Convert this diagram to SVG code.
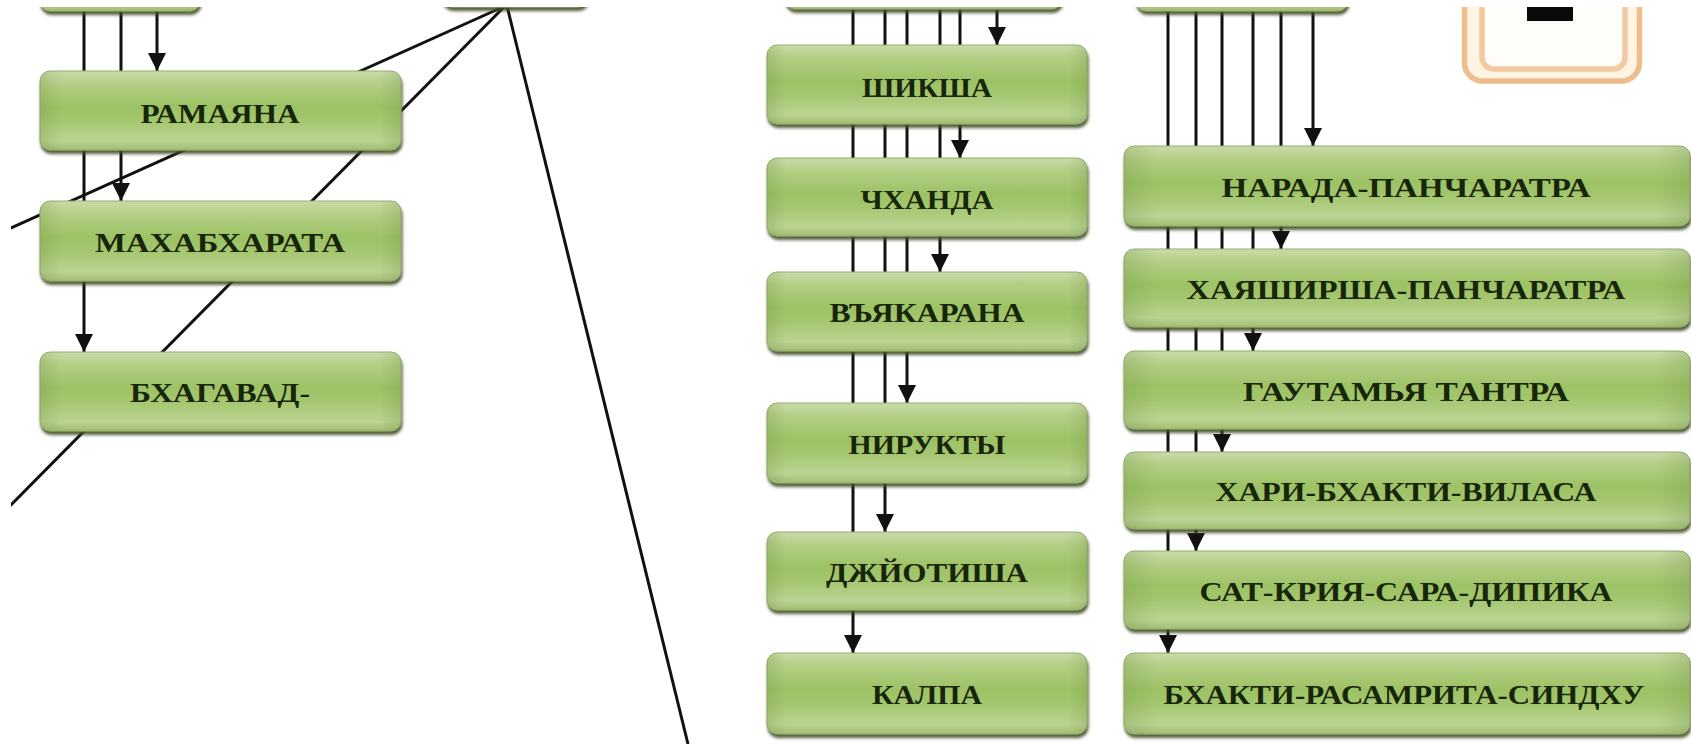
<svg xmlns="http://www.w3.org/2000/svg" width="1691" height="744" viewBox="0 0 1691 744">
<defs>
<linearGradient id="g" x1="0" y1="0" x2="0" y2="1">
<stop offset="0" stop-color="#cadcaa"/>
<stop offset="0.15" stop-color="#b4cf87"/>
<stop offset="0.45" stop-color="#9dc264"/>
<stop offset="0.62" stop-color="#a4c66e"/>
<stop offset="0.88" stop-color="#bad492"/>
<stop offset="1" stop-color="#a3bc74"/>
</linearGradient>
<linearGradient id="gh" x1="0" y1="0" x2="1" y2="0">
<stop offset="0" stop-color="#6f8c45" stop-opacity="0.25"/>
<stop offset="0.06" stop-color="#6f8c45" stop-opacity="0"/>
<stop offset="0.94" stop-color="#6f8c45" stop-opacity="0"/>
<stop offset="1" stop-color="#6f8c45" stop-opacity="0.25"/>
</linearGradient>
<filter id="sh" x="-5%" y="-10%" width="110%" height="130%">
<feDropShadow dx="1" dy="3.5" stdDeviation="1.4" flood-color="#404e24" flood-opacity="0.9"/>
</filter>
<marker id="ah" viewBox="0 0 10 10" refX="10" refY="5" markerWidth="23" markerHeight="18" markerUnits="userSpaceOnUse" orient="auto">
<path d="M0,0 L10,5 L0,10 z" fill="#111"/>
</marker>
</defs>
<style>
.ln{stroke:#111;stroke-width:3;fill:none}
.ar{marker-end:url(#ah)}
.box{fill:url(#g);stroke:#94b06a;stroke-width:1;filter:url(#sh)}
.ov{fill:url(#gh)}
.t{font-family:"Liberation Serif","DejaVu Serif",serif;font-weight:bold;font-size:27px;fill:#17250a;text-anchor:middle}
</style>
<rect width="1691" height="744" fill="#ffffff"/>

<g id="connectors">
<line class="ln ar" x1="84" y1="0" x2="84" y2="352"/>
<line class="ln ar" x1="121" y1="0" x2="121" y2="201"/>
<line class="ln ar" x1="157" y1="0" x2="157" y2="71"/>
<line class="ln" x1="505" y1="6" x2="0" y2="233"/>
<line class="ln" x1="505" y1="6" x2="0" y2="516"/>
<line class="ln" x1="507" y1="6" x2="688" y2="744"/>
<line class="ln ar" x1="853" y1="0" x2="853" y2="653"/>
<line class="ln ar" x1="885" y1="0" x2="885" y2="532"/>
<line class="ln ar" x1="907" y1="0" x2="907" y2="403"/>
<line class="ln ar" x1="940" y1="0" x2="940" y2="272"/>
<line class="ln ar" x1="960" y1="0" x2="960" y2="158"/>
<line class="ln ar" x1="997" y1="0" x2="997" y2="45"/>
<line class="ln ar" x1="1168" y1="0" x2="1168" y2="653"/>
<line class="ln ar" x1="1196" y1="0" x2="1196" y2="551"/>
<line class="ln ar" x1="1222" y1="0" x2="1222" y2="452"/>
<line class="ln ar" x1="1253" y1="0" x2="1253" y2="351"/>
<line class="ln ar" x1="1281" y1="0" x2="1281" y2="249"/>
<line class="ln ar" x1="1313" y1="0" x2="1313" y2="146"/>
</g>

<g id="top-left"><rect class="box" x="40" y="-70" width="160" height="81" rx="10"/></g>
<g id="top-mid"><rect class="box" x="442" y="-70" width="146" height="77" rx="10"/></g>
<g id="top-center"><rect class="box" x="785" y="-70" width="277" height="79" rx="10"/></g>
<g id="top-right"><rect class="box" x="1136" y="-70" width="212" height="81" rx="10"/></g>

<g id="n-ramayana"><rect class="box" x="40" y="71" width="361" height="79" rx="10"/><rect class="ov" x="40" y="71" width="361" height="79" rx="10"/><text class="t" x="220" y="123" textLength="159" lengthAdjust="spacingAndGlyphs">РАМАЯНА</text></g>
<g id="n-mahabharata"><rect class="box" x="40" y="201" width="361" height="80" rx="10"/><rect class="ov" x="40" y="201" width="361" height="80" rx="10"/><text class="t" x="220" y="252" textLength="250" lengthAdjust="spacingAndGlyphs">МАХАБХАРАТА</text></g>
<g id="n-bhagavad"><rect class="box" x="40" y="352" width="361" height="79" rx="10"/><rect class="ov" x="40" y="352" width="361" height="79" rx="10"/><text class="t" x="220" y="402" textLength="180" lengthAdjust="spacingAndGlyphs">БХАГАВАД-</text></g>

<g id="n-shiksha"><rect class="box" x="767" y="45" width="320" height="79" rx="10"/><rect class="ov" x="767" y="45" width="320" height="79" rx="10"/><text class="t" x="927" y="97" textLength="130" lengthAdjust="spacingAndGlyphs">ШИКША</text></g>
<g id="n-chhanda"><rect class="box" x="767" y="158" width="320" height="78" rx="10"/><rect class="ov" x="767" y="158" width="320" height="78" rx="10"/><text class="t" x="927" y="209" textLength="133" lengthAdjust="spacingAndGlyphs">ЧХАНДА</text></g>
<g id="n-vyakarana"><rect class="box" x="767" y="272" width="320" height="79" rx="10"/><rect class="ov" x="767" y="272" width="320" height="79" rx="10"/><text class="t" x="927" y="322" textLength="195" lengthAdjust="spacingAndGlyphs">ВЪЯКАРАНА</text></g>
<g id="n-nirukta"><rect class="box" x="767" y="403" width="320" height="80" rx="10"/><rect class="ov" x="767" y="403" width="320" height="80" rx="10"/><text class="t" x="927" y="453.5" textLength="157" lengthAdjust="spacingAndGlyphs">НИРУКТЫ</text></g>
<g id="n-jyotisha"><rect class="box" x="767" y="532" width="320" height="78" rx="10"/><rect class="ov" x="767" y="532" width="320" height="78" rx="10"/><text class="t" x="927" y="581.5" textLength="202" lengthAdjust="spacingAndGlyphs">ДЖЙОТИША</text></g>
<g id="n-kalpa"><rect class="box" x="767" y="653" width="320" height="81" rx="10"/><rect class="ov" x="767" y="653" width="320" height="81" rx="10"/><text class="t" x="927" y="704" textLength="110" lengthAdjust="spacingAndGlyphs">КАЛПА</text></g>

<g id="n-narada"><rect class="box" x="1124" y="146" width="566" height="80" rx="10"/><rect class="ov" x="1124" y="146" width="566" height="80" rx="10"/><text class="t" x="1406" y="196.5" textLength="369" lengthAdjust="spacingAndGlyphs">НАРАДА-ПАНЧАРАТРА</text></g>
<g id="n-hayashirsha"><rect class="box" x="1124" y="249" width="566" height="78" rx="10"/><rect class="ov" x="1124" y="249" width="566" height="78" rx="10"/><text class="t" x="1406" y="298.5" textLength="439" lengthAdjust="spacingAndGlyphs">ХАЯШИРША-ПАНЧАРАТРА</text></g>
<g id="n-gautamiya"><rect class="box" x="1124" y="351" width="566" height="78" rx="10"/><rect class="ov" x="1124" y="351" width="566" height="78" rx="10"/><text class="t" x="1406" y="400.5" textLength="326" lengthAdjust="spacingAndGlyphs">ГАУТАМЬЯ ТАНТРА</text></g>
<g id="n-hari"><rect class="box" x="1124" y="452" width="566" height="77" rx="10"/><rect class="ov" x="1124" y="452" width="566" height="77" rx="10"/><text class="t" x="1406" y="501" textLength="381" lengthAdjust="spacingAndGlyphs">ХАРИ-БХАКТИ-ВИЛАСА</text></g>
<g id="n-sat"><rect class="box" x="1124" y="551" width="566" height="78" rx="10"/><rect class="ov" x="1124" y="551" width="566" height="78" rx="10"/><text class="t" x="1406" y="600.5" textLength="413" lengthAdjust="spacingAndGlyphs">САТ-КРИЯ-САРА-ДИПИКА</text></g>
<g id="n-bhakti"><rect class="box" x="1124" y="653" width="566" height="81" rx="10"/><rect class="ov" x="1124" y="653" width="566" height="81" rx="10"/><text class="t" x="1404" y="704" textLength="481" lengthAdjust="spacingAndGlyphs">БХАКТИ-РАСАМРИТА-СИНДХУ</text></g>

<g id="n-orange">
<rect x="1464.5" y="-50" width="175" height="131" rx="18" fill="#fff3e4" stroke="#edbd8c" stroke-width="5.5"/>
<rect x="1482" y="-50" width="143" height="119" rx="12" fill="#fffdf9" stroke="#f1caa0" stroke-width="5.5"/>
<rect x="1527" y="0" width="46" height="21" fill="#0a0a0a"/>
</g>

<rect x="0" y="0" width="1691" height="7" fill="#ffffff"/>
<rect x="0" y="0" width="11" height="744" fill="#ffffff"/>
</svg>
